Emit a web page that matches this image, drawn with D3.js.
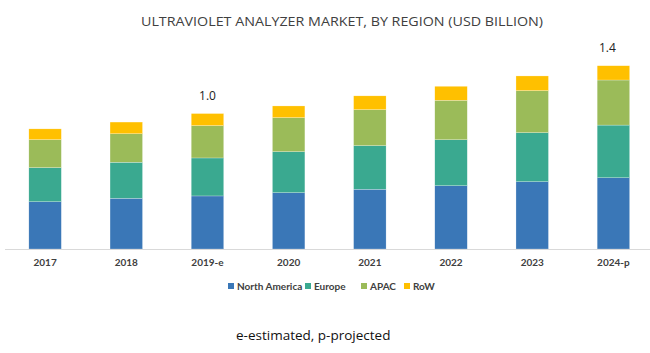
<!DOCTYPE html>
<html><head><meta charset="utf-8">
<script src="https://cdn.jsdelivr.net/npm/d3@7"></script>
<style>body{margin:0;background:#fff;}svg{display:block;}</style>
</head><body>
<svg id="c" width="650" height="353"></svg>
<script>
const categories = ["2017","2018","2019-e","2020","2021","2022","2023","2024-p"];
const seriesNames = ["North America","Europe","APAC","RoW"];
const northAmerica = [0.361,0.387,0.405,0.430,0.456,0.483,0.514,0.544];
const europe       = [0.260,0.275,0.290,0.313,0.333,0.351,0.374,0.402];
const apac         = [0.214,0.218,0.247,0.260,0.275,0.301,0.321,0.344];
const row          = [0.082,0.089,0.092,0.089,0.105,0.107,0.112,0.109];
const totalLabels  = [{cat:"2019-e", text:"1.0"},{cat:"2024-p", text:"1.4"}];
const colors = ["#3A77B7","#3AA990","#9BBB59","#FFC000"];

const svg = d3.select("#c");
const data = categories.map((c,i)=>({cat:c,"North America":northAmerica[i],"Europe":europe[i],"APAC":apac[i],"RoW":row[i]}));
const stacked = d3.stack().keys(seriesNames)(data);

const x = d3.scaleBand().domain(categories).range([4.5,654]).paddingInner(0.6).paddingOuter(0.3);
const y = d3.scaleLinear().domain([0,1.6]).range([249,249-1.6*131]);

svg.append("text").attr("x",342).attr("y",26).attr("text-anchor","middle")
  .attr("font-family","Open Sans, sans-serif").attr("font-size",13.5).attr("fill","#404040")
  .attr("textLength",402).attr("lengthAdjust","spacingAndGlyphs")
  .text("ULTRAVIOLET ANALYZER MARKET, BY REGION (USD BILLION)");

svg.append("g").selectAll("g").data(stacked).join("g")
  .attr("fill",(d,i)=>colors[i])
  .selectAll("rect").data(d=>d).join("rect")
  .attr("x",d=>x(d.data.cat)).attr("width",x.bandwidth())
  .attr("y",d=>y(d[1])).attr("height",d=>y(d[0])-y(d[1]))
  .attr("stroke","#ffffff").attr("stroke-width",0.4).attr("stroke-opacity",0.6);

const ax = svg.append("g").attr("transform","translate(0,249)").call(d3.axisBottom(x).tickSize(0).tickPadding(10));
ax.select(".domain").attr("stroke","#d9d9d9").attr("stroke-width",1.2);
ax.selectAll("text").attr("font-family","Lato, sans-serif").attr("font-size",10).attr("font-weight","bold").attr("fill","#404040");

const totals = categories.map((c,i)=>northAmerica[i]+europe[i]+apac[i]+row[i]);
svg.append("g").selectAll("text").data(totalLabels).join("text")
  .attr("x",(d,i)=>x(d.cat)+x.bandwidth()/2 + (i===totalLabels.length-1 ? -6 : 0))
  .attr("y",d=>y(totals[categories.indexOf(d.cat)])-14)
  .attr("text-anchor","middle").attr("font-family","Open Sans, sans-serif").attr("font-size",12).attr("fill","#222")
  .text(d=>d.text);

const legendX = [228,305,361,404];
const lg = svg.append("g").selectAll("g").data(seriesNames).join("g")
  .attr("transform",(d,i)=>`translate(${legendX[i]},286)`);
lg.append("rect").attr("x",0).attr("y",-3).attr("width",6).attr("height",6).attr("fill",(d,i)=>colors[i]);
lg.append("text").attr("x",9).attr("y",3.5).attr("font-family","Lato, sans-serif").attr("font-size",10).attr("font-weight","bold").attr("fill","#404040").text(d=>d);

svg.append("text").attr("x",236).attr("y",340).attr("font-family","Open Sans, sans-serif").attr("font-size",13.5).attr("fill","#111")
  .text("e-estimated, p-projected");
</script>
</body></html>
